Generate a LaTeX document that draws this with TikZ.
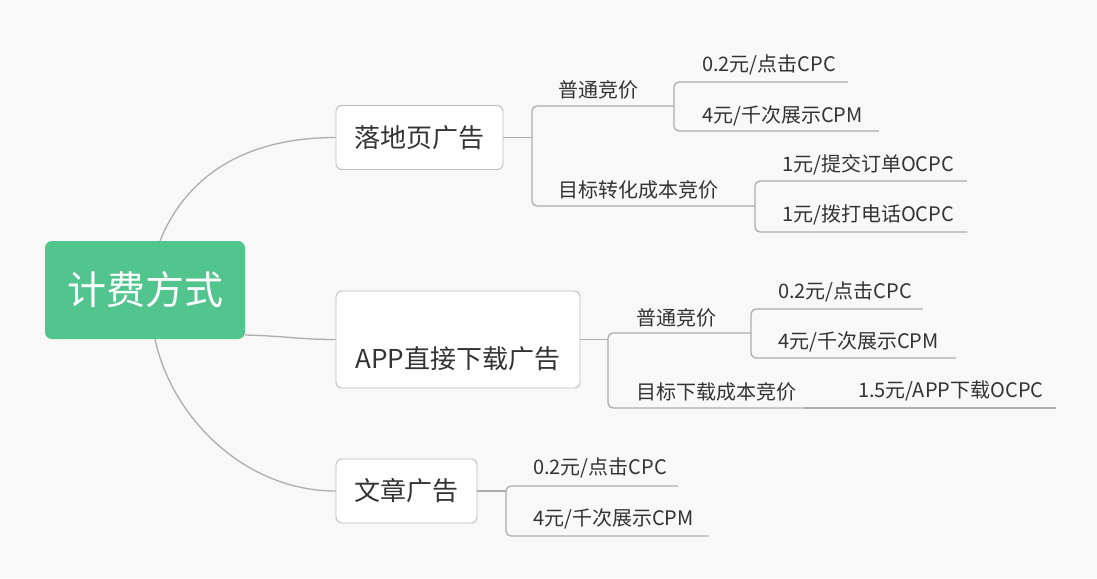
\documentclass[tikz,border=0pt]{standalone}
\usepackage{fontspec}
\setmainfont{Noto Sans CJK SC}
\definecolor{bgc}{HTML}{F8F8F8}
\definecolor{linec}{HTML}{ADADAD}
\definecolor{boxc}{HTML}{BDBDBD}
\definecolor{txt}{HTML}{333333}
\definecolor{rootc}{HTML}{52C48D}
\begin{document}
\begin{tikzpicture}[x=1pt,y=-1pt,
  conn/.style={draw=linec, line width=1.3pt},
  bracket/.style={draw=linec, line width=1.3pt, rounded corners=5pt},
  topic/.style={draw=boxc, fill=white, rounded corners=6pt, line width=0.9pt, text=txt, font=\fontsize{26}{30}\selectfont, inner sep=0pt},
  lab/.style={text=txt, font=\fontsize{20}{23}\selectfont, anchor=west, inner sep=0pt},
]
\fill[bgc] (0,0) rectangle (1097,578);
\useasboundingbox (0,0) rectangle (1097,578);

% root
\node[fill=rootc, rounded corners=7pt, minimum width=200pt, minimum height=98pt, inner sep=0pt, text=white, font=\fontsize{39}{44}\selectfont] (root) at (145,290) {计费方式};

% main topics
\node[topic, minimum width=167pt, minimum height=64pt] (b1) at (419.5,137.5) {落地页广告};
\node[topic, minimum width=244pt, minimum height=97pt, text height=57pt, text depth=0pt] (b2) at (458,339.5) {APP直接下载广告};
\node[topic, minimum width=141pt, minimum height=64pt] (b3) at (406.5,491) {文章广告};

% root connectors
\draw[conn] ([xshift=15pt]root.north) .. controls (188,172) and (250,137.5) .. (b1.west);
\draw[conn] ([yshift=-45pt]root.east) .. controls (285,336) and (300,339.5) .. (b2.west);
\draw[conn] ([xshift=10pt]root.south) .. controls (172,418) and (245,491) .. (b3.west);

% ---- group 1
\coordinate (j1) at (532,137.5);
\coordinate (j1t) at (532,106);
\coordinate (j1b) at (532,206);
\coordinate (e1t) at (674,106);
\coordinate (e1b) at (755,206);
\node[lab] (s11) at (558,90) {普通竞价};
\node[lab] (s12) at (558,190) {目标转化成本竞价};
\draw[conn] (b1.east) -- (j1);
\draw[bracket] (e1t) -- (j1t) -- (j1b) -- (e1b);

\coordinate (k1t) at (674,82);
\coordinate (k1b) at (674,131);
\node[lab] (l111) at (702,65) {0.2元/点击CPC};
\node[lab] (l112) at (702,116) {4元/千次展示CPM};
\draw[bracket] (848,82) -- (k1t) -- (e1t) -- (k1b) -- (879,131);

\coordinate (k2t) at (755,181);
\coordinate (k2b) at (755,232);
\node[lab] (l121) at (782,165) {1元/提交订单OCPC};
\node[lab] (l122) at (782,215) {1元/拨打电话OCPC};
\draw[bracket] (967,181) -- (k2t) -- (e1b) -- (k2b) -- (967,232);

% ---- group 2
\coordinate (j2) at (608,339.5);
\coordinate (j2t) at (608,333);
\coordinate (j2b) at (608,408);
\coordinate (e2t) at (751,333);
\coordinate (e2b) at (804,408);
\node[lab] (s21) at (636,318) {普通竞价};
\node[lab] (s22) at (636,392) {目标下载成本竞价};
\draw[conn] (b2.east) -- (j2);
\draw[bracket] (e2t) -- (j2t) -- (j2b) -- (e2b);

\coordinate (k3t) at (751,309);
\coordinate (k3b) at (751,358);
\node[lab] (l211) at (778,292) {0.2元/点击CPC};
\node[lab] (l212) at (778,342) {4元/千次展示CPM};
\draw[bracket] (923,309) -- (k3t) -- (e2t) -- (k3b) -- (956,358);

\node[lab] (l221) at (858,391) {1.5元/APP下载OCPC};
\draw[conn] (e2b) -- (1056,408);

% ---- group 3
\coordinate (j3) at (506,491);
\coordinate (j3t) at (506,486);
\coordinate (j3b) at (506,536);
\node[lab] (l31) at (533,468) {0.2元/点击CPC};
\node[lab] (l32) at (533,519) {4元/千次展示CPM};
\draw[conn] (b3.east) -- (j3);
\draw[bracket] (678,486) -- (j3t) -- (j3b) -- (709,536);
\end{tikzpicture}
\end{document}
